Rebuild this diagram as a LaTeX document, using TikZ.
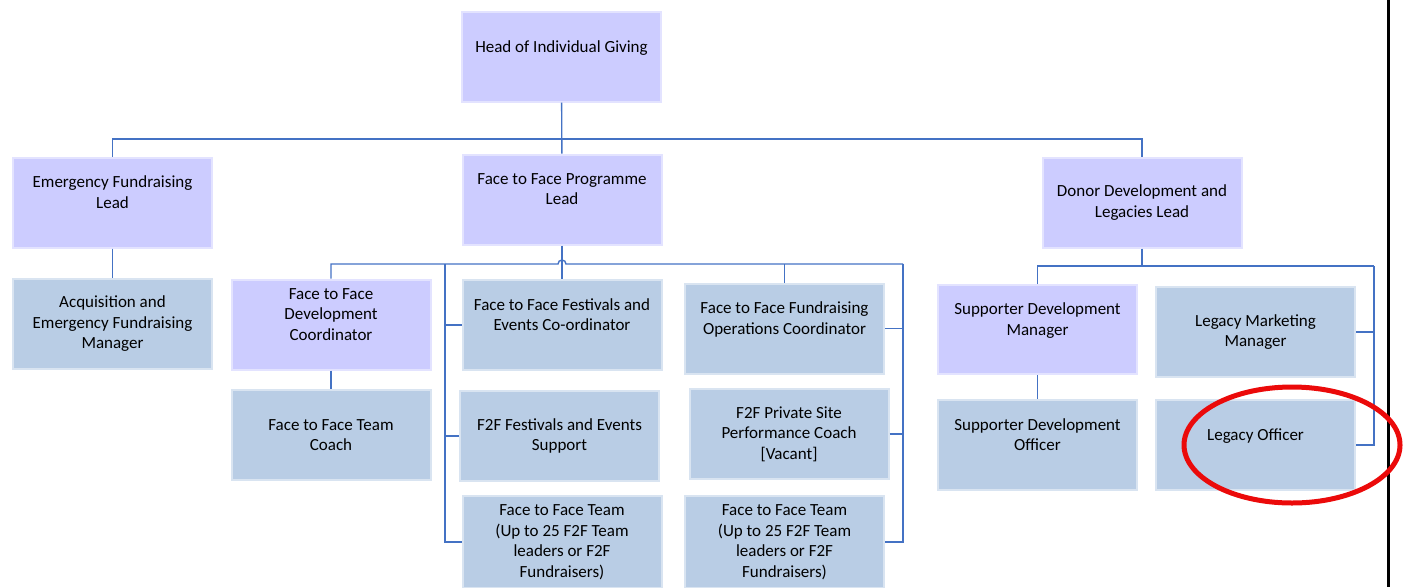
\documentclass[tikz,border=0pt]{standalone}
\usepackage{fontspec}
\setmainfont{Carlito}
\usetikzlibrary{positioning,calc}

\definecolor{lavfill}{RGB}{204,204,255}
\definecolor{greyfill}{RGB}{185,205,229}
\definecolor{linkblue}{RGB}{68,114,196}
\definecolor{ringred}{RGB}{235,10,10}

\tikzset{
    role/.style={rectangle, minimum width=199pt, minimum height=90pt,
        inner sep=0pt, align=center, line width=2pt,
        font=\fontsize{17}{20.5}\selectfont},
    lav/.style={role, fill=lavfill, draw=lavfill!55!white},
    grey/.style={role, fill=greyfill, draw=greyfill!55!white},
    link/.style={draw=linkblue, line width=1.4pt}
}

\begin{document}
\begin{tikzpicture}[x=1pt, y=-1pt]
    \useasboundingbox (0,0) rectangle (1410,587);

    % top
    \node[lav] (head) at (561.5,56.5) {Head of Individual Giving\\ \mbox{}};

    % leads
    \node[lav] (emlead) at (112.5,202.5) {Emergency Fundraising\\ Lead\\ \mbox{}};
    \node[lav] (f2flead) at (562,199.5) {Face to Face Programme\\ Lead\\ \mbox{}};
    \node[lav] (donor) at (1142,202.5) {Donor Development and\\ Legacies Lead};

    % emergency team
    \node[grey] (acq) at (112.5,324) {Acquisition and\\ Emergency Fundraising\\ Manager};

    % face to face team
    \node[lav] (devco) at (331,324.5) {Face to Face\\ Development\\ Coordinator\\ \mbox{}};
    \node[grey] (coach) at (331,435) {Face to Face Team\\ Coach};
    \node[grey] (festco) at (562,325) {Face to Face Festivals and\\ Events Co-ordinator\\ \mbox{}};
    \node[grey] (festsup) at (559.5,436) {F2F Festivals and Events\\ Support};
    \node[grey, minimum height=92pt] (teamA) at (562,542) {Face to Face Team\\ (Up to 25 F2F Team\\ leaders or F2F\\ Fundraisers)};
    \node[grey] (opsco) at (784.5,328.5) {Face to Face Fundraising\\ Operations Coordinator\\ \mbox{}};
    \node[grey] (private) at (789,434) {F2F Private Site\\ Performance Coach\\ {[Vacant]}};
    \node[grey, minimum height=92pt] (teamB) at (784.5,542) {Face to Face Team\\ (Up to 25 F2F Team\\ leaders or F2F\\ Fundraisers)};

    % donor team
    \node[lav, minimum height=89pt] (sdm) at (1037.5,329.5) {Supporter Development\\ Manager\\ \mbox{}};
    \node[grey] (lmm) at (1255.5,332) {Legacy Marketing\\ Manager};
    \node[grey] (sdo) at (1037.5,445) {Supporter Development\\ Officer\\ \mbox{}};
    \node[grey] (lo) at (1255.5,445) {Legacy Officer\\ \mbox{}};

    % bus points
    \coordinate (busA) at (562,139);
    \coordinate (hop) at (562,264);
    \coordinate (trunkL) at (445,264);
    \coordinate (trunkR) at (903,264);
    \coordinate (busD) at (1142,266);
    \coordinate (trunkD) at (1374,266);

    % connections
    \draw[link] (emlead.north) |- (busA) -| (donor.north);
    \draw[link] (head) -- (f2flead);
    \draw[link] (emlead) -- (acq);

    \draw[link] (f2flead) -- (festco);
    \draw[link] (devco.north) |- ([xshift=-4pt]hop)
        arc[start angle=180, end angle=0, radius=4pt] -- (trunkR);
    \draw[link] (opsco.north) -- (opsco.north |- hop);
    \draw[link] (devco) -- (coach);
    \foreach \n in {festco,festsup,teamA}
        \draw[link] (\n.west) -| (trunkL);
    \foreach \n in {opsco,private,teamB}
        \draw[link] (\n.east) -| (trunkR);

    \draw[link] (donor.south) -- (busD);
    \draw[link] (sdm.north) |- (busD) -- (trunkD);
    \draw[link] (sdm) -- (sdo);
    \foreach \n in {lmm,lo}
        \draw[link] (\n.east) -| (trunkD);

    % page edge and highlight
    \draw[line width=3pt] (1388,0) -- (1388,587);
    \draw[ringred, line width=5pt] (1292,445) ellipse [x radius=108pt, y radius=58pt];
\end{tikzpicture}
\end{document}
